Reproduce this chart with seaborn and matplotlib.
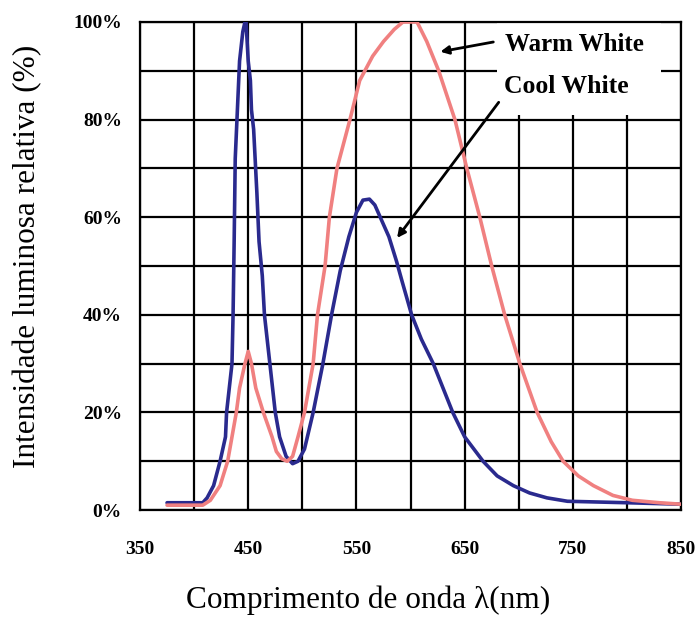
import matplotlib
matplotlib.use("Agg")
import matplotlib.pyplot as plt
import seaborn as sns
import pandas as pd
from matplotlib.patches import Rectangle

# Relative spectral power of two white LEDs
cool_nm = [375, 408, 412, 418, 424, 429, 430, 435, 436, 437, 438, 440, 442, 445, 447,
           448, 450, 452, 453, 455, 458, 460, 463, 465, 470, 475, 479, 485, 491, 496,
           502, 510, 519, 527, 535, 543, 550, 556, 562, 567, 572, 580, 587, 592, 601,
           610, 621, 630, 639, 650, 667, 680, 695, 710, 726, 745, 800, 850]
cool_val = [1.5, 1.5, 2.5, 5, 10, 15, 20, 30, 40, 55, 72, 82, 92, 98, 100,
            100, 92, 88, 82, 78, 65, 55, 48, 40, 30, 20, 15, 11, 9.5, 10,
            12.5, 20, 30, 40, 49, 56, 61, 63.5, 63.7, 62.5, 60, 56, 51, 47, 40,
            35, 30, 25, 20, 15, 10, 7, 5, 3.5, 2.5, 1.8, 1.5, 1.2]

warm_nm = [375, 408, 415, 424, 431, 439, 442, 447, 450, 453, 457, 464, 472, 476, 481,
           486, 491, 496, 502, 510, 514, 521, 525, 532, 544, 553, 565, 575, 585, 593,
           606, 615, 626, 641, 652, 664, 675, 687, 701, 717, 730, 741, 755, 769, 787,
           805, 830, 850]
warm_val = [1, 1, 2, 5, 10, 20, 25, 30, 32.5, 30, 25, 20, 15, 12, 10.5,
            10, 11, 15, 20, 30, 40, 50, 60, 70, 80, 88, 93, 96, 98.5, 100,
            100, 96, 90, 80, 70, 60, 50, 40, 30, 20, 14, 10, 7, 5, 3,
            2, 1.5, 1.2]

x_ticks = [350, 450, 550, 650, 750, 850]
y_ticks = [0, 20, 40, 60, 80, 100]
y_tick_labels = ["0%", "20%", "40%", "60%", "80%", "100%"]

df = pd.concat([
    pd.DataFrame({"nm": cool_nm, "val": cool_val, "led": "Cool White"}),
    pd.DataFrame({"nm": warm_nm, "val": warm_val, "led": "Warm White"}),
])

sns.set_style("white")
plt.rcParams["font.family"] = ["Liberation Serif", "DejaVu Serif"]
plt.rcParams["text.color"] = "black"
plt.rcParams["axes.labelcolor"] = "black"
plt.rcParams["xtick.color"] = "black"
plt.rcParams["ytick.color"] = "black"

fig = plt.figure(figsize=(7.0, 6.19), dpi=100)
ax = fig.add_axes([0.2, 0.176, 0.773, 0.7885])

sns.lineplot(data=df, x="nm", y="val", hue="led",
             palette={"Cool White": "#2a2a8e", "Warm White": "#f08080"},
             hue_order=["Cool White", "Warm White"],
             linewidth=2.6, legend=False, ax=ax, zorder=3, sort=False)

ax.set_xlim(350, 850)
ax.set_ylim(0, 100)
ax.grid(True, color="black", linewidth=1.6, zorder=1)
ax.set_axisbelow(True)

# grid every 50 nm / 10 %, labels only every 100 nm / 20 %
ax.set_xticks(range(350, 851, 50))
ax.set_yticks(range(0, 101, 10))
ax.set_xticklabels([str(v) if v in x_ticks else "" for v in range(350, 851, 50)],
                   fontsize=14, fontweight="bold")
ax.set_yticklabels([y_tick_labels[y_ticks.index(v)] if v in y_ticks else ""
                    for v in range(0, 101, 10)], fontsize=14, fontweight="bold")
ax.tick_params(axis="x", length=0, pad=22)
ax.tick_params(axis="y", length=0, pad=13)

for s in ax.spines.values():
    s.set_color("black")
    s.set_linewidth(1.6)

# white panel behind the annotation labels
ax.add_patch(Rectangle((680, 81), 151, 18.8, facecolor="white", edgecolor="none",
                       zorder=2))

ax.annotate("", xy=(625, 93.8), xytext=(679, 96),
            arrowprops=dict(arrowstyle="-|>", color="black", lw=2,
                            mutation_scale=12), zorder=4)
ax.text(687, 95.3, "Warm White", fontsize=18, fontweight="bold",
        va="center", ha="left", zorder=4)

ax.annotate("", xy=(586, 55.3), xytext=(683, 84),
            arrowprops=dict(arrowstyle="-|>", color="black", lw=2,
                            mutation_scale=12), zorder=4)
ax.text(686, 86.8, "Cool White", fontsize=18.5, fontweight="bold",
        va="center", ha="left", zorder=4)

ax.set_xlabel("Comprimento de onda λ(nm)", fontsize=22.5)
ax.set_ylabel("Intensidade luminosa relativa (%)", fontsize=22.5)
ax.xaxis.set_label_coords(0.422, -0.155)
ax.yaxis.set_label_coords(-0.18, 0.52)

fig.savefig("out.png", dpi=100, facecolor="white")
